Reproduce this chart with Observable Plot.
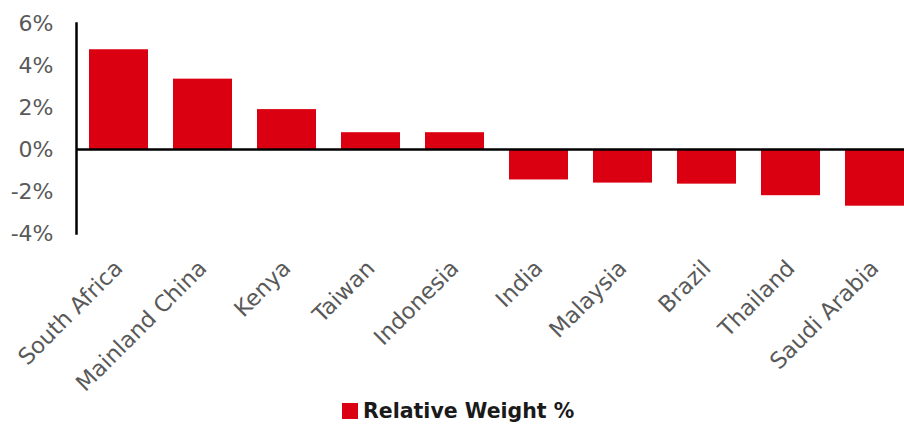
<!DOCTYPE html>
<html>
<head>
<meta charset="utf-8">
<script src="https://cdn.jsdelivr.net/npm/d3@7"></script>
<script src="https://cdn.jsdelivr.net/npm/@observablehq/plot@0.6"></script>
<style>
  html, body { margin: 0; padding: 0; background: #fff; overflow: hidden; }
  #chart svg { display: block; overflow: hidden; }
  #legend { display: flex; align-items: center; padding-left: 342px; margin-top: 4px;
            font-family: "DejaVu Sans", sans-serif; font-weight: bold; font-size: 20.5px; color: #1a1a1a; }
  #legend .sw { width: 16px; height: 16px; margin-right: 5px; }
</style>
</head>
<body>
<div id="chart"></div>
<div id="legend"></div>
<script>
const countries = ["South Africa", "Mainland China", "Kenya", "Taiwan", "Indonesia",
                   "India", "Malaysia", "Brazil", "Thailand", "Saudi Arabia"];
const weights = [4.75, 3.35, 1.9, 0.8, 0.8, -1.45, -1.6, -1.65, -2.2, -2.7];
const yTicks = [-4, -2, 0, 2, 4, 6];
const seriesName = "Relative Weight %";
const barColor = "#db0011";

const data = countries.map((c, i) => ({country: c, value: weights[i]}));

const chart = Plot.plot({
  width: 904,
  height: 395,
  marginTop: 23,
  marginBottom: 162,
  marginLeft: 76,
  marginRight: 0,
  style: {fontFamily: "DejaVu Sans, sans-serif", background: "#fff"},
  x: {domain: countries, range: [76, 916], paddingInner: 0.3, paddingOuter: 0.15, label: null},
  y: {domain: [-4, 6], label: null},
  marks: [
    Plot.barY(data, {x: "country", y: "value", fill: barColor}),
    Plot.ruleY([0], {stroke: "#000", strokeWidth: 2.5}),
    Plot.frame({anchor: "left", stroke: "#000", strokeWidth: 2.5}),
    Plot.axisY({ticks: yTicks, tickFormat: d => d + "%", tickSize: 0, tickPadding: 23,
                fontSize: 22, fill: "#595959", label: null}),
    Plot.axisX({tickRotate: -45, tickSize: 0, tickPadding: 31, fontSize: 22.5,
                fill: "#595959", label: null})
  ]
});
document.getElementById("chart").appendChild(chart);

const legend = document.getElementById("legend");
const sw = document.createElement("span");
sw.className = "sw";
sw.style.background = barColor;
legend.appendChild(sw);
const lt = document.createElement("span");
lt.textContent = seriesName;
legend.appendChild(lt);
</script>
</body>
</html>
